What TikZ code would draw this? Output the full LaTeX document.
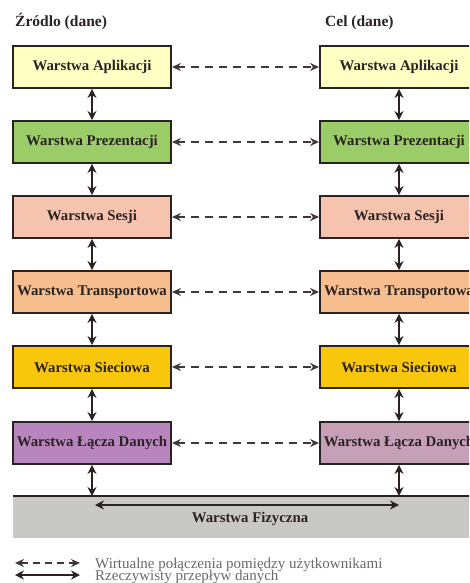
\documentclass[tikz,border=0pt]{standalone}
\usepackage{fontspec}
\setmainfont{Liberation Serif}
\usetikzlibrary{arrows.meta}
\definecolor{ink}{HTML}{2B2222}
\definecolor{cApp}{HTML}{FFFFC4}
\definecolor{cPre}{HTML}{9ACD68}
\definecolor{cSes}{HTML}{F5C3AE}
\definecolor{cTra}{HTML}{F6BE8E}
\definecolor{cSie}{HTML}{F8C60A}
\definecolor{cLaL}{HTML}{B985BE}
\definecolor{cLaR}{HTML}{C6A0B6}
\definecolor{cFiz}{HTML}{C8C8C5}
\definecolor{legtxt}{HTML}{6A6A6A}
\begin{document}
\begin{tikzpicture}[x=1pt,y=-1pt,
  layer/.style={draw=ink, line width=1.9pt, minimum width=158pt, minimum height=42pt,
    inner sep=0pt, text=ink, font=\fontsize{14.8}{17}\selectfont\bfseries},
  virt/.style={draw=ink!90, line width=1.8pt, dash pattern=on 8pt off 6pt,
    {Stealth[length=9pt,width=8pt]}-{Stealth[length=9pt,width=8pt]}},
  real/.style={draw=ink, line width=1.9pt,
    {Stealth[length=9pt,width=9pt]}-{Stealth[length=9pt,width=9pt]}},
  ttl/.style={text=ink, font=\fontsize{15.5}{17}\selectfont\bfseries, anchor=base west, inner sep=0pt},
  leg/.style={text=legtxt, font=\fontsize{15}{17}\selectfont, anchor=base west, inner sep=0pt}]
\useasboundingbox (0,0) rectangle (469,583);
\clip (0,0) rectangle (469,583);
\fill[white] (0,0) rectangle (469,583);

\node[ttl] (tl) at (15,27) {Źródlo (dane)};
\node[ttl] (tr) at (325,27) {Cel (dane)};

\node[layer, fill=cApp] (L1) at (92,67) {Warstwa Aplikacji};
\node[layer, fill=cPre] (L2) at (92,142) {Warstwa Prezentacji};
\node[layer, fill=cSes] (L3) at (92,217) {Warstwa Sesji};
\node[layer, fill=cTra] (L4) at (92,292) {Warstwa Transportowa};
\node[layer, fill=cSie] (L5) at (92,367) {Warstwa Sieciowa};
\node[layer, fill=cLaL] (L6) at (92,443) {Warstwa Łącza Danych};

\node[layer, fill=cApp] (R1) at (399,67) {Warstwa Aplikacji};
\node[layer, fill=cPre] (R2) at (399,142) {Warstwa Prezentacji};
\node[layer, fill=cSes] (R3) at (399,217) {Warstwa Sesji};
\node[layer, fill=cTra] (R4) at (399,292) {Warstwa Transportowa};
\node[layer, fill=cSie] (R5) at (399,367) {Warstwa Sieciowa};
\node[layer, fill=cLaR] (R6) at (399,443) {Warstwa Łącza Danych};

\foreach \i in {1,...,6} {
  \draw[virt] (L\i.east) -- (R\i.west);
}
\foreach \a/\b in {1/2,2/3,3/4,4/5,5/6} {
  \draw[real] (L\a.south) -- (L\b.north);
  \draw[real] (R\a.south) -- (R\b.north);
}

\node[fill=cFiz, minimum width=465pt, minimum height=42pt, inner sep=0pt, anchor=north west] (F) at (13,496) {};
\node[text=ink, font=\fontsize{14.8}{17}\selectfont\bfseries, inner sep=0pt] (Ft) at (250,519) {Warstwa Fizyczna};
\draw[ink, line width=1.8pt] (F.north west) -- (F.north east);
\draw[real] (L6.south) -- (L6.south |- F.north);
\draw[real] (R6.south) -- (R6.south |- F.north);
\coordinate (pa) at (95,505);
\coordinate (pb) at (399,505);
\draw[real] (pa) -- (pb);

\coordinate (va) at (15,563);
\coordinate (vb) at (80,563);
\coordinate (ra) at (15,575);
\coordinate (rb) at (80,575);
\draw[virt, line width=1.6pt, dash pattern=on 7pt off 5pt] (va) -- (vb);
\draw[real, line width=1.6pt] (ra) -- (rb);
\node[leg] (t1) at (95,568) {Wirtualne połączenia pomiędzy użytkownikami};
\node[leg] (t2) at (95,580) {Rzeczywisty przepływ danych};
\end{tikzpicture}
\end{document}
